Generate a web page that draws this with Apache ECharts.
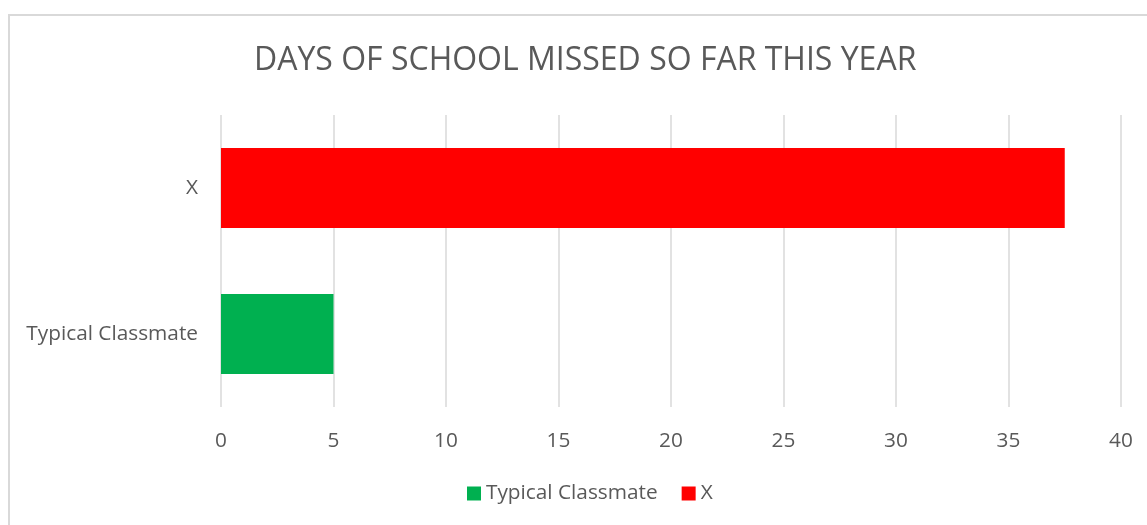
<!DOCTYPE html>
<html><head><meta charset="utf-8">
<script src="https://cdn.jsdelivr.net/npm/echarts@6/dist/echarts.min.js"></script>
<style>html,body{margin:0;padding:0;background:#fff}#c{width:1147px;height:525px}</style>
</head><body><div id="c"></div>
<script>
const categories = ['Typical Classmate', 'X'];
const seriesNames = ['Typical Classmate', 'X'];
const typicalValues = [5, '-'];
const xValues = ['-', 37.5];
const colors = ['#00b050', '#ff0000'];
const titleText = 'DAYS OF SCHOOL MISSED SO FAR THIS YEAR';

const font = '"Open Sans", sans-serif';
const chart = echarts.init(document.getElementById('c'));
chart.setOption({
  animation: false,
  textStyle: { fontFamily: font },
  graphic: [{ type: 'rect', shape: { x: 9, y: 15, width: 1200, height: 600 }, style: { fill: 'none', stroke: '#d9d9d9', lineWidth: 2 }, silent: true }],
  title: { text: titleText, left: 254, top: 45, padding: 0, textStyle: { fontFamily: font, fontSize: 32, fontWeight: 'normal', color: '#595959' } },
  legend: { bottom: 16, left: 462, icon: 'rect', itemWidth: 14, itemHeight: 14, itemGap: 24, textStyle: { fontFamily: font, fontSize: 20.8, color: '#595959' }, data: seriesNames },
  grid: { left: 221, right: 26, top: 115, bottom: 118, containLabel: false },
  xAxis: { type: 'value', min: 0, max: 40, interval: 5, axisLine: { show: false }, axisTick: { show: false },
    axisLabel: { color: '#595959', fontSize: 20.8, margin: 24, fontFamily: font },
    splitLine: { lineStyle: { color: '#d9d9d9', width: 1.5 } } },
  yAxis: { type: 'category', data: categories, axisLine: { show: false }, axisTick: { show: false },
    axisLabel: { color: '#595959', fontSize: 20.8, margin: 23, fontFamily: font } },
  series: [
    { name: seriesNames[0], type: 'bar', stack: 's', data: typicalValues, barWidth: 80, itemStyle: { color: colors[0] } },
    { name: seriesNames[1], type: 'bar', stack: 's', data: xValues, barWidth: 80, itemStyle: { color: colors[1] } }
  ]
});
</script></body></html>
